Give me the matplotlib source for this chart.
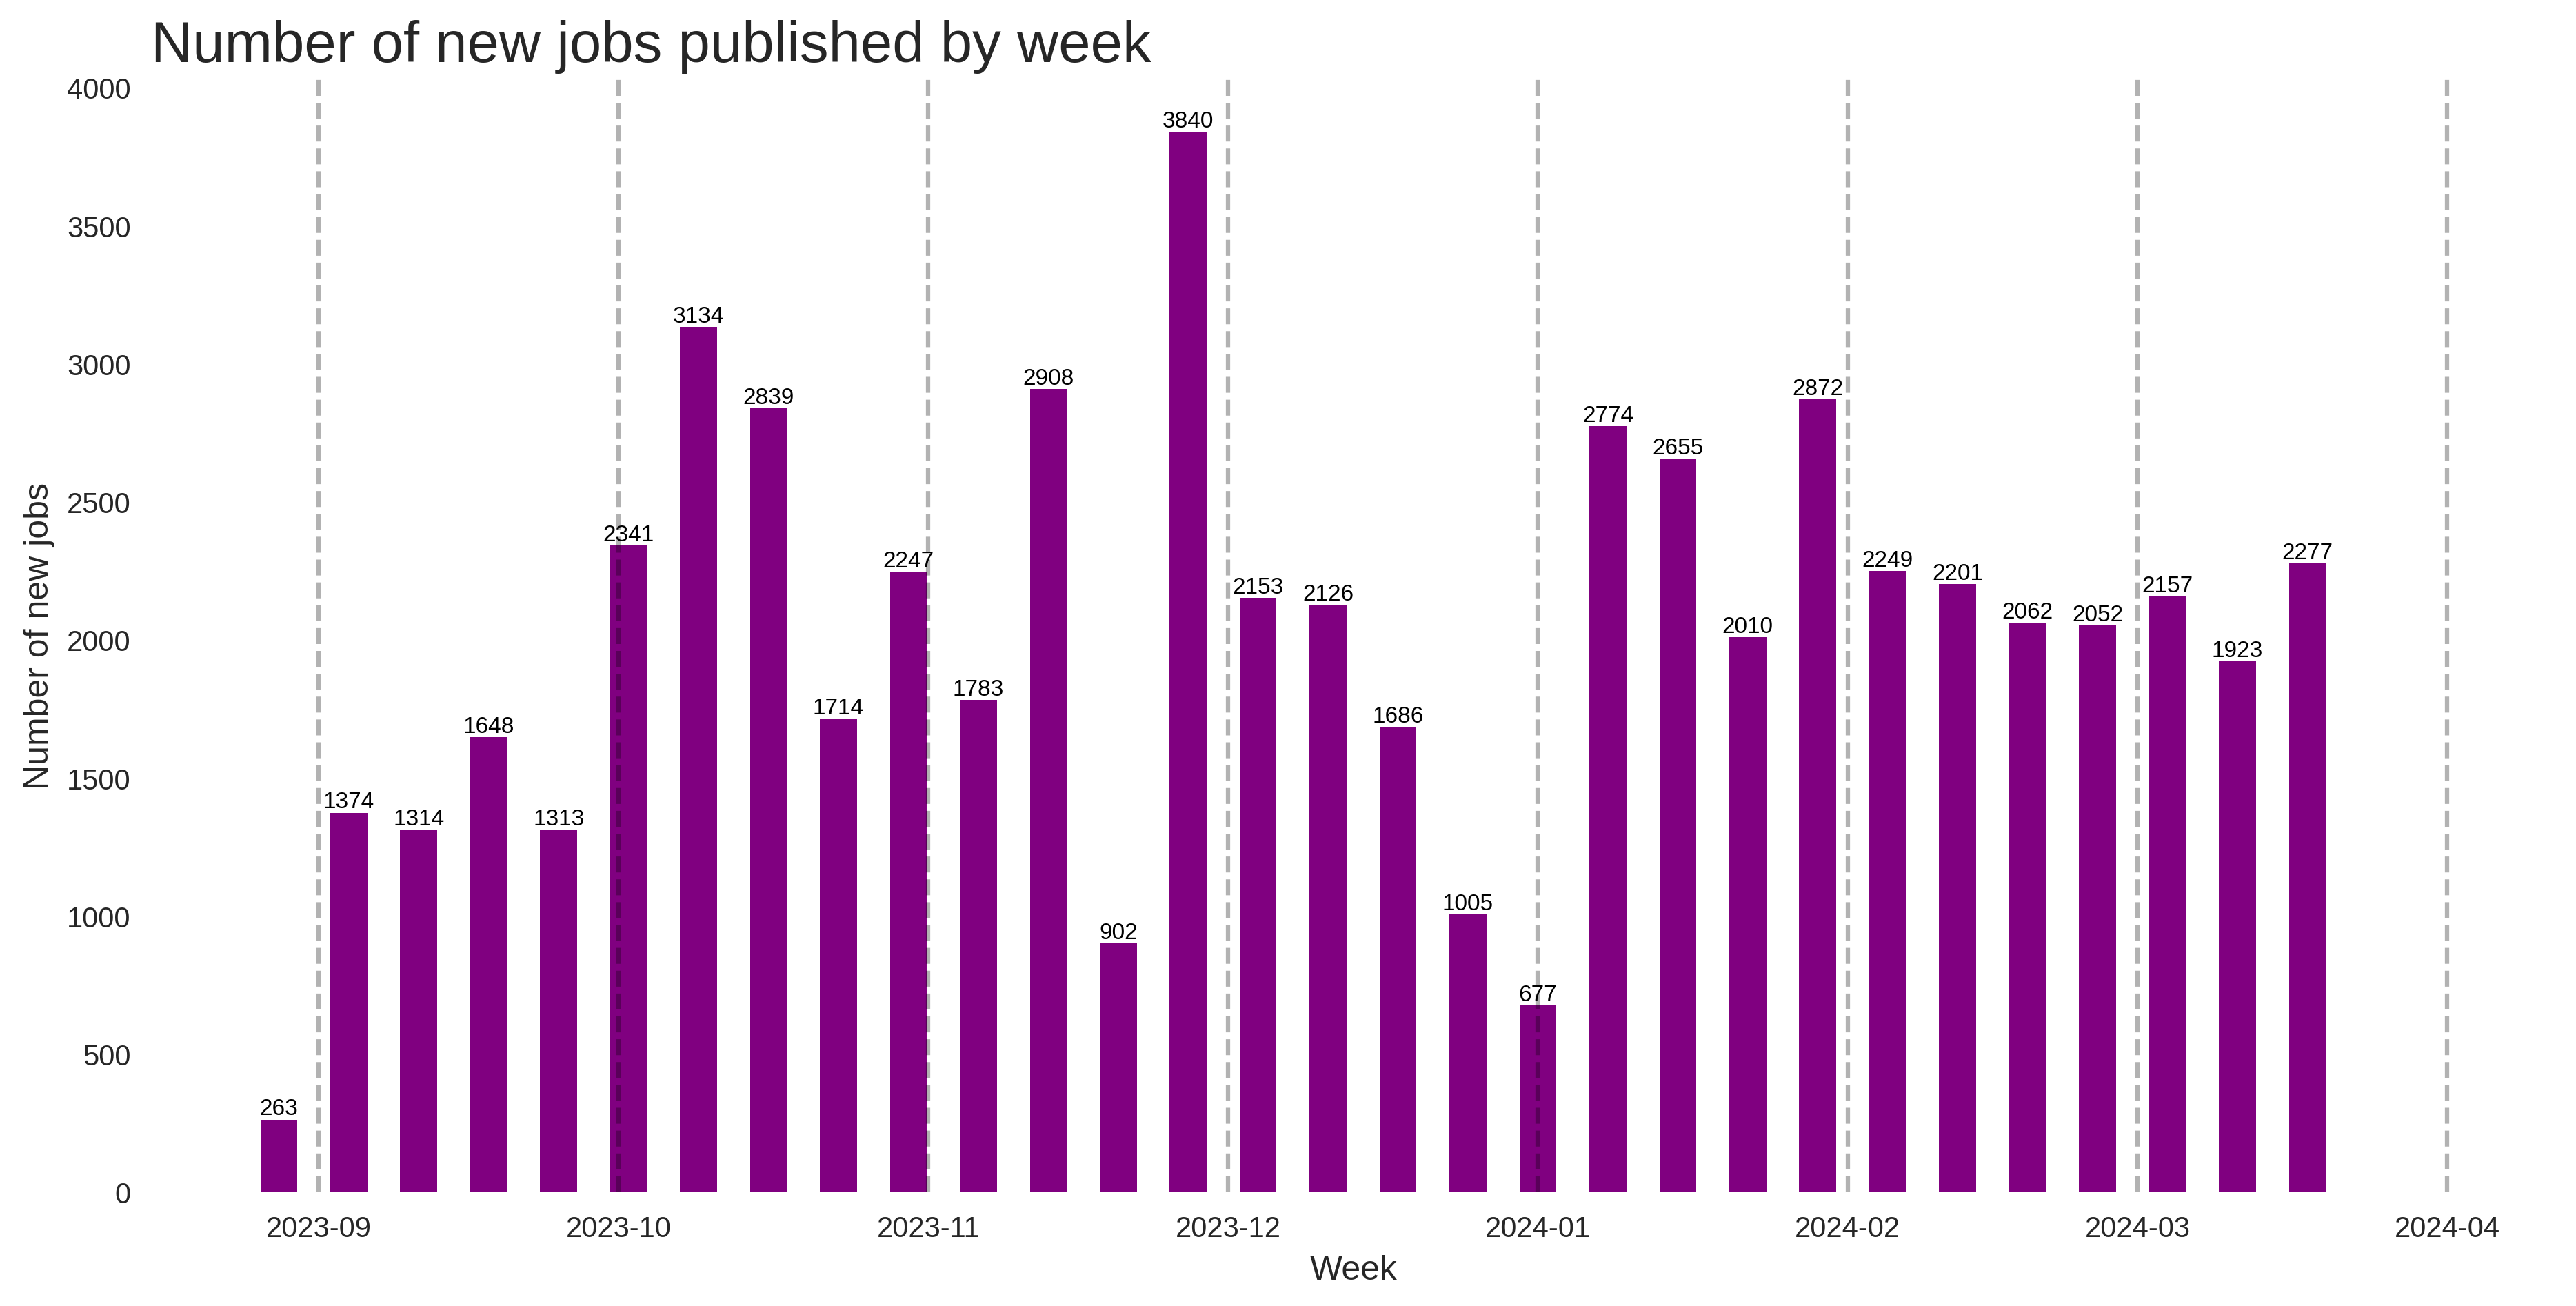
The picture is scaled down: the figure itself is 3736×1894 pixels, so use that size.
import pandas as pd
import matplotlib.pyplot as plt
import matplotlib.dates as mdates

weeks = ["2023-08-28", "2023-09-04", "2023-09-11", "2023-09-18", "2023-09-25",
         "2023-10-02", "2023-10-09", "2023-10-16", "2023-10-23", "2023-10-30",
         "2023-11-06", "2023-11-13", "2023-11-20", "2023-11-27", "2023-12-04",
         "2023-12-11", "2023-12-18", "2023-12-25", "2024-01-01", "2024-01-08",
         "2024-01-15", "2024-01-22", "2024-01-29", "2024-02-05", "2024-02-12",
         "2024-02-19", "2024-02-26", "2024-03-04", "2024-03-11", "2024-03-18"]
new_jobs = [263, 1374, 1314, 1648, 1313, 2341, 3134, 2839, 1714, 2247,
            1783, 2908, 902, 3840, 2153, 2126, 1686, 1005, 677, 2774,
            2655, 2010, 2872, 2249, 2201, 2062, 2052, 2157, 1923, 2277]
month_starts = ["2023-09-01", "2023-10-01", "2023-11-01", "2023-12-01",
                "2024-01-01", "2024-02-01", "2024-03-01", "2024-04-01"]

plt.rcParams['font.family'] = ['Liberation Sans', 'DejaVu Sans']
text_col = '#262626'

dates = pd.to_datetime(weeks)

fig = plt.figure(figsize=(3736 / 300, 1894.8 / 300), dpi=300)
ax = fig.add_axes([0.0586, 0.0871, 0.9339, 0.8522])

bars = ax.bar(dates, new_jobs, width=3.7, color='purple')
ax.bar_label(bars, fontsize=8, color='black')

# month boundaries
for m in pd.to_datetime(month_starts):
    ax.axvline(m, color='black', alpha=0.3, linestyle='--', linewidth=1.5)

ax.xaxis.set_major_locator(mdates.MonthLocator())
ax.xaxis.set_major_formatter(mdates.DateFormatter('%Y-%m'))
ax.set_yticks(range(0, 4001, 500))
ax.tick_params(axis='both', length=0, labelsize=10, labelcolor=text_col)
ax.tick_params(axis='x', pad=8)
ax.tick_params(axis='y', pad=7)

for s in ax.spines.values():
    s.set_visible(False)

ax.set_xlabel('Week', fontsize=12, color=text_col)
ax.set_ylabel('Number of new jobs', fontsize=12, color=text_col)
ax.set_title('Number of new jobs published by week', fontsize=20,
             loc='left', color=text_col)

fig.savefig('out.png', dpi=300)
